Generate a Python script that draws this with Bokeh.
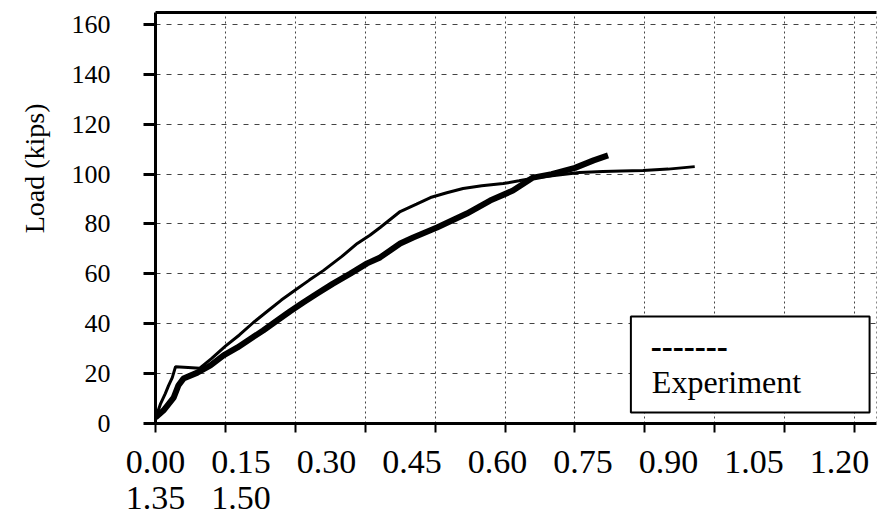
import math
from bokeh.plotting import figure
from bokeh.models import LinearAxis, Range1d, FixedTicker, BoxAnnotation, Label
from bokeh.embed import file_html
from bokeh.resources import INLINE

# ---------------- data ----------------
analysis_x = [0.000, 0.011, 0.021, 0.028, 0.036, 0.043, 0.070, 0.095, 0.120, 0.150,
              0.180, 0.210, 0.240, 0.270, 0.300, 0.330, 0.360, 0.400, 0.433, 0.460,
              0.482, 0.525, 0.560, 0.590, 0.625, 0.660, 0.700, 0.746, 0.780, 0.819,
              0.860, 0.910, 0.960, 1.000, 1.046, 1.100, 1.157]
analysis_y = [2.0, 8.0, 12.0, 15.2, 18.4, 22.8, 22.5, 22.2, 26.0, 31.0,
              35.5, 40.5, 45.0, 49.5, 53.5, 57.5, 61.3, 67.0, 72.2, 75.5,
              78.6, 85.0, 88.0, 90.6, 92.5, 94.2, 95.3, 96.2, 97.3, 98.6,
              99.5, 100.6, 101.0, 101.2, 101.4, 102.0, 103.0]

experiment_x = [0.000, 0.017, 0.039, 0.049, 0.060, 0.090, 0.118, 0.146, 0.176, 0.204,
                0.231, 0.261, 0.289, 0.317, 0.347, 0.380, 0.418, 0.454, 0.482, 0.525,
                0.553, 0.604, 0.668, 0.718, 0.767, 0.810, 0.850, 0.900, 0.940, 0.971]
experiment_y = [2.4, 5.2, 10.4, 15.2, 18.0, 20.4, 23.3, 27.3, 30.5, 34.0,
                37.3, 41.3, 45.0, 48.5, 52.1, 56.0, 60.1, 64.2, 66.6, 72.2,
                74.6, 78.6, 84.2, 89.4, 93.4, 98.6, 100.0, 102.5, 105.5, 107.5]

y_ticks = [0, 20, 40, 60, 80, 100, 120, 140, 160]
x_ticks = [0.00, 0.15, 0.30, 0.45, 0.60, 0.75, 0.90, 1.05, 1.20, 1.35, 1.50]
x_labels_row1 = ["0.00", "0.15", "0.30", "0.45", "0.60", "0.75", "0.90", "1.05", "1.20"]
x_labels_row2 = ["1.35", "1.50"]
y_title = "Load (kips)"
legend_symbol = "-------"
legend_text = "Experiment"

# ---------------- layout / style ----------------
FONT = "Liberation Serif"
X_MAX = 1.547
Y_MAX = 164.8
W, H = 877, 518
FRAME_LEFT = 155
FRAME_RIGHT_PAD = 1
FRAME_W = W - FRAME_LEFT - FRAME_RIGHT_PAD
LABEL_STEP_PX = 85.5
LAB_MAX = FRAME_W / LABEL_STEP_PX
Y_TITLE_ANCHOR = 128.3   # load level where the rotated y title ends (its top)

p = figure(width=W, height=H, x_range=Range1d(0, X_MAX), y_range=Range1d(0, Y_MAX),
           output_backend="svg", toolbar_location=None,
           min_border_left=FRAME_LEFT, min_border_right=FRAME_RIGHT_PAD,
           min_border_top=12, min_border_bottom=95)
p.outline_line_color = None
p.background_fill_color = "white"
p.extra_x_ranges = {"lab": Range1d(0, LAB_MAX)}

# main x axis: line + tick marks only (ticks as minor ticks, so no labels)
xa = p.xaxis[0]
xa.ticker = FixedTicker(ticks=[], minor_ticks=x_ticks)
xa.major_label_standoff = 0
xa.major_tick_out = 9
xa.major_tick_in = 0
xa.minor_tick_out = 9
xa.minor_tick_in = 0
xa.minor_tick_line_width = 2
xa.minor_tick_line_color = "black"
xa.axis_line_width = 3
xa.axis_line_color = "black"


def label_axis(labels, standoff):
    return LinearAxis(x_range_name="lab",
                      ticker=FixedTicker(ticks=list(range(len(labels)))),
                      major_label_overrides={i: s for i, s in enumerate(labels)},
                      axis_line_color=None, major_tick_line_color=None,
                      minor_tick_line_color=None, major_label_standoff=standoff,
                      major_tick_out=0, major_tick_in=0,
                      major_label_text_font=FONT, major_label_text_font_size="34px",
                      major_label_text_color="black")


p.add_layout(label_axis(x_labels_row1, 18), "below")
p.add_layout(label_axis(x_labels_row2, 11), "below")

# top frame line and faint right edge
top_ax = LinearAxis(ticker=FixedTicker(ticks=[]), axis_line_width=3, axis_line_color="black",
                    major_tick_out=0, major_tick_in=0, major_label_standoff=0,
                    minor_tick_line_color=None, major_tick_line_color=None)
p.add_layout(top_ax, "above")
right_ax = LinearAxis(ticker=FixedTicker(ticks=[]), axis_line_width=1, axis_line_color="#888888",
                      axis_line_dash="2 3", major_tick_out=0, major_tick_in=0,
                      major_label_standoff=0, minor_tick_line_color=None,
                      major_tick_line_color=None)
p.add_layout(right_ax, "right")

# y axis
ya = p.yaxis[0]
ya.ticker = FixedTicker(ticks=y_ticks)
ya.major_label_text_font = FONT
ya.major_label_text_font_size = "26px"
ya.major_label_text_color = "black"
ya.major_label_standoff = 33
ya.major_tick_out = 12
ya.major_tick_in = 0
ya.major_tick_line_width = 3
ya.minor_tick_line_color = None
ya.axis_line_width = 3
ya.axis_line_color = "black"

# y title: a rotated label on an outer, line-less axis
title_ax = LinearAxis(ticker=FixedTicker(ticks=[Y_TITLE_ANCHOR]),
                      major_label_overrides={Y_TITLE_ANCHOR: y_title},
                      major_label_orientation=math.pi / 2,
                      axis_line_color=None, major_tick_line_color=None,
                      minor_tick_line_color=None, major_tick_out=0, major_tick_in=0,
                      major_label_standoff=34, major_label_text_font=FONT,
                      major_label_text_font_size="28px", major_label_text_color="black")
p.add_layout(title_ax, "left")

# grid
p.xgrid.ticker = FixedTicker(ticks=x_ticks)
p.xgrid.grid_line_color = "#444444"
p.xgrid.grid_line_dash = "2 3"
p.xgrid.grid_line_width = 1
p.ygrid.ticker = FixedTicker(ticks=y_ticks)
p.ygrid.grid_line_color = "#444444"
p.ygrid.grid_line_dash = "5 6"
p.ygrid.grid_line_width = 1

# curves
p.line(analysis_x, analysis_y, line_color="black", line_width=3)
p.line(experiment_x, experiment_y, line_color="black", line_width=6)

# legend box (positions from reference pixels)
px_x = 0.15 / 70.0
px_y = 160 / 399.0
p.add_layout(BoxAnnotation(left=(631 - 155) * px_x, right=(870 - 155) * px_x,
                           bottom=(423 - 412) * px_y, top=(423 - 316) * px_y,
                           fill_color="white", fill_alpha=1.0,
                           line_color="black", line_width=2, line_alpha=1.0))
p.add_layout(Label(x=(651 - 155) * px_x, y=(423 - 347) * px_y, text=legend_symbol,
                   text_font=FONT, text_font_size="33px", text_font_style="bold",
                   text_color="black", text_baseline="alphabetic"))
p.add_layout(Label(x=(652 - 155) * px_x, y=(423 - 382) * px_y, text=legend_text,
                   text_font=FONT, text_font_size="32px", text_color="black",
                   text_baseline="alphabetic"))

open("out.html", "w").write(file_html(p, INLINE))
